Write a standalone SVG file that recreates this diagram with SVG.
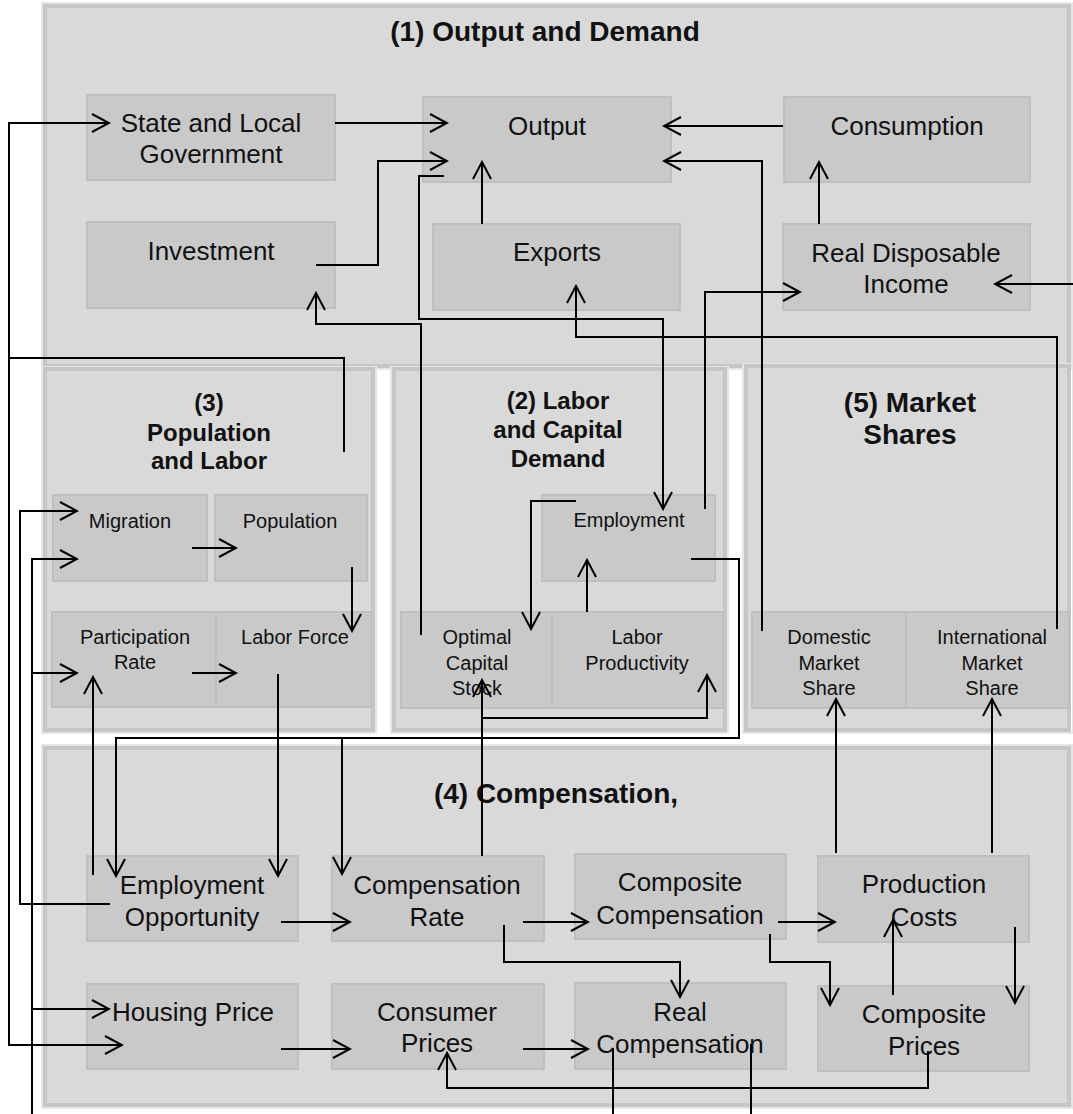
<svg xmlns="http://www.w3.org/2000/svg" width="1073" height="1114" viewBox="0 0 1073 1114">
<style>
.panel{fill:#d9d9d9;stroke:#c6c6c6;stroke-width:4}
.halo{fill:none;stroke:#e6e6e6;stroke-width:2}
.node{fill:#c9c9c9;stroke:#bfbfbf;stroke-width:2}
.t{font-family:"Liberation Sans",Arial,sans-serif;fill:#111;text-anchor:middle}
.big{font-size:26px}
.sm{font-size:20px}
.ttl{font-family:"Liberation Sans",Arial,sans-serif;font-weight:bold;fill:#111;text-anchor:middle}
.c{fill:none;stroke:#000;stroke-width:2}
.a{marker-end:url(#arr)}
</style>
<defs>
<marker id="arr" viewBox="0 0 20 20" refX="18" refY="10" markerWidth="20" markerHeight="20" markerUnits="userSpaceOnUse" orient="auto">
<path d="M1,1 L18,10 L1,19" fill="none" stroke="#000" stroke-width="2"/>
</marker>
</defs>
<rect width="1073" height="1114" fill="#fff"/>

<g id="panel1">
<rect class="halo" x="42" y="3" width="1030" height="366"/>
<rect class="panel" x="45" y="6" width="1024" height="360"/>
<text class="ttl" x="545" y="41" font-size="28">(1) Output and Demand</text>
</g>
<g id="panel3">
<rect class="halo" x="42" y="367" width="334" height="366"/>
<rect class="panel" x="45" y="369" width="328" height="361"/>
<text class="ttl" font-size="24" x="209" y="411">(3)</text>
<text class="ttl" font-size="24" x="209" y="441">Population</text>
<text class="ttl" font-size="24" x="209" y="469">and Labor</text>
</g>
<g id="panel2">
<rect class="halo" x="391" y="367" width="337" height="366"/>
<rect class="panel" x="394" y="369" width="331" height="361"/>
<text class="ttl" font-size="24" x="558" y="409">(2) Labor</text>
<text class="ttl" font-size="24" x="558" y="438">and Capital</text>
<text class="ttl" font-size="24" x="558" y="467">Demand</text>
</g>
<g id="panel5">
<rect class="halo" x="743" y="364" width="330" height="369"/>
<rect class="panel" x="746" y="366" width="323" height="364"/>
<text class="ttl" font-size="28" x="910" y="412">(5) Market</text>
<text class="ttl" font-size="28" x="910" y="444">Shares</text>
</g>
<g id="panel4">
<rect class="halo" x="42" y="745" width="1030" height="363"/>
<rect class="panel" x="45" y="748" width="1024" height="357"/>
<text class="ttl" font-size="28" x="556" y="803">(4) Compensation,</text>
</g>

<g id="n-slg"><rect class="node" x="87" y="95" width="248" height="85"/>
<text class="t big" x="211" y="132">State and Local</text><text class="t big" x="211" y="163">Government</text></g>
<g id="n-output"><rect class="node" x="423" y="97" width="248" height="85"/>
<text class="t big" x="547" y="135">Output</text></g>
<g id="n-consumption"><rect class="node" x="784" y="97" width="246" height="85"/>
<text class="t big" x="907" y="135">Consumption</text></g>
<g id="n-investment"><rect class="node" x="87" y="222" width="248" height="86"/>
<text class="t big" x="211" y="260">Investment</text></g>
<g id="n-exports"><rect class="node" x="433" y="224" width="247" height="86"/>
<text class="t big" x="557" y="261">Exports</text></g>
<g id="n-rdi"><rect class="node" x="783" y="224" width="247" height="86"/>
<text class="t big" x="906" y="262">Real Disposable</text><text class="t big" x="906" y="293">Income</text></g>

<g id="n-migration"><rect class="node" x="53" y="495" width="154" height="86"/>
<text class="t sm" x="130" y="528">Migration</text></g>
<g id="n-population"><rect class="node" x="215" y="495" width="152" height="86"/>
<text class="t sm" x="290" y="528">Population</text></g>
<g id="n-participation"><rect class="node" x="52" y="612" width="164" height="95"/>
<text class="t sm" x="135" y="644">Participation</text><text class="t sm" x="135" y="669">Rate</text></g>
<g id="n-laborforce"><rect class="node" x="216" y="612" width="156" height="95"/>
<text class="t sm" x="295" y="644">Labor Force</text></g>

<g id="n-employment"><rect class="node" x="542" y="495" width="173" height="86"/>
<text class="t sm" x="629" y="527">Employment</text></g>
<g id="n-ocs"><rect class="node" x="401" y="612" width="151" height="96"/>
<text class="t sm" x="477" y="644">Optimal</text><text class="t sm" x="477" y="670">Capital</text><text class="t sm" x="477" y="695">Stock</text></g>
<g id="n-lp"><rect class="node" x="552" y="612" width="171" height="96"/>
<text class="t sm" x="637" y="644">Labor</text><text class="t sm" x="637" y="670">Productivity</text></g>

<g id="n-dms"><rect class="node" x="752" y="612" width="154" height="96"/>
<text class="t sm" x="829" y="644">Domestic</text><text class="t sm" x="829" y="670">Market</text><text class="t sm" x="829" y="695">Share</text></g>
<g id="n-ims"><rect class="node" x="906" y="612" width="163" height="96"/>
<text class="t sm" x="992" y="644">International</text><text class="t sm" x="992" y="670">Market</text><text class="t sm" x="992" y="695">Share</text></g>

<g id="n-empopp"><rect class="node" x="87" y="856" width="211" height="85"/>
<text class="t big" x="192" y="894">Employment</text><text class="t big" x="192" y="926">Opportunity</text></g>
<g id="n-comprate"><rect class="node" x="332" y="856" width="212" height="85"/>
<text class="t big" x="437" y="894">Compensation</text><text class="t big" x="437" y="926">Rate</text></g>
<g id="n-compcomp"><rect class="node" x="575" y="854" width="211" height="85"/>
<text class="t big" x="680" y="891">Composite</text><text class="t big" x="680" y="924">Compensation</text></g>
<g id="n-prodcosts"><rect class="node" x="818" y="856" width="211" height="86"/>
<text class="t big" x="924" y="893">Production</text><text class="t big" x="924" y="926">Costs</text></g>
<g id="n-housing"><rect class="node" x="87" y="984" width="211" height="85"/>
<text class="t big" x="193" y="1021">Housing Price</text></g>
<g id="n-consumer"><rect class="node" x="332" y="984" width="212" height="85"/>
<text class="t big" x="437" y="1021">Consumer</text><text class="t big" x="437" y="1052">Prices</text></g>
<g id="n-realcomp"><rect class="node" x="575" y="983" width="211" height="86"/>
<text class="t big" x="680" y="1021">Real</text><text class="t big" x="680" y="1053">Compensation</text></g>
<g id="n-compprices"><rect class="node" x="818" y="986" width="211" height="85"/>
<text class="t big" x="924" y="1023">Composite</text><text class="t big" x="924" y="1055">Prices</text></g>

<g id="connectors">
<path class="c" d="M344,452 V358 H9"/>
<path class="c a" d="M9,358 V123 H109"/>
<path class="c a" d="M9,358 V1045 H122"/>
<path class="c a" d="M110,904 H20 V511 H77"/>
<path class="c a" d="M32,1114 V559 H77"/>
<path class="c a" d="M32,673 H77"/>
<path class="c a" d="M32,1009 H109"/>
<path class="c a" d="M93,875 V677"/>
<path class="c a" d="M192,548 H236"/>
<path class="c a" d="M352,567 V631"/>
<path class="c a" d="M192,673 H236"/>
<path class="c a" d="M278,674 V876"/>
<path class="c a" d="M691,559 H739 V738 H116 V876"/>
<path class="c a" d="M342,738 V874"/>
<path class="c a" d="M576,501 H531 V629"/>
<path class="c a" d="M587,612 V560"/>
<path class="c a" d="M482,856 V680"/>
<path class="c a" d="M482,718 H707 V675"/>
<path class="c a" d="M444,176 H419 V319 H663 V509"/>
<path class="c a" d="M421,635 V324 H316 V293"/>
<path class="c a" d="M316,265 H378 V161 H447"/>
<path class="c a" d="M335,123 H447"/>
<path class="c a" d="M482,224 V162"/>
<path class="c a" d="M783,126 H664"/>
<path class="c a" d="M762,631 V161 H664"/>
<path class="c a" d="M819,224 V162"/>
<path class="c a" d="M1073,284 H995"/>
<path class="c a" d="M705,509 V292 H800"/>
<path class="c a" d="M1057,629 V337 H576 V286"/>
<path class="c a" d="M836,853 V699"/>
<path class="c a" d="M992,853 V699"/>
<path class="c a" d="M281,922 H350"/>
<path class="c a" d="M281,1049 H350"/>
<path class="c a" d="M523,922 H588"/>
<path class="c a" d="M523,1049 H588"/>
<path class="c a" d="M504,925 V962 H680 V997"/>
<path class="c a" d="M778,922 H835"/>
<path class="c a" d="M770,934 V962 H830 V1005"/>
<path class="c a" d="M893,995 V920"/>
<path class="c a" d="M1015,927 V1003"/>
<path class="c a" d="M928,1051 V1088 H447 V1053"/>
<path class="c" d="M613,1048 V1114"/>
<path class="c" d="M751,1044 V1114"/>
</g>
</svg>
